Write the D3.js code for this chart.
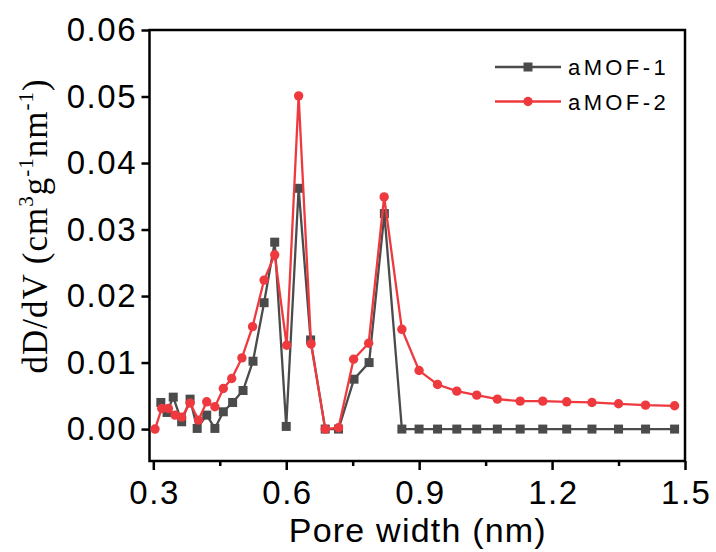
<!DOCTYPE html>
<html>
<head>
<meta charset="utf-8">
<script src="https://cdn.jsdelivr.net/npm/d3@7"></script>
<style>
  html, body { margin: 0; padding: 0; background: #fff; }
  svg { display: block; }
</style>
</head>
<body>
<svg id="chart" width="716" height="552"></svg>
<script>
// ---- data ----
const seriesNames = ["aMOF-1", "aMOF-2"];
const poreWidth1 = [0.317, 0.331, 0.345, 0.364, 0.383, 0.399, 0.4205, 0.439, 0.458, 0.479,
  0.5025, 0.525, 0.550, 0.574, 0.600, 0.628, 0.655, 0.688, 0.718, 0.753,
  0.787, 0.8215, 0.861, 0.8998, 0.9415, 0.985, 1.030, 1.0765, 1.128, 1.179,
  1.233, 1.290, 1.350, 1.411, 1.4765];
const dDdV1 = [0.0040, 0.0025, 0.0048, 0.0011, 0.0045, 0.0001, 0.0021, 0.0001, 0.0026, 0.0040,
  0.0058, 0.0102, 0.0190, 0.0281, 0.0004, 0.0362, 0.0134, 0, 0, 0.0075,
  0.0100, 0.0324, 0, 0, 0, 0, 0, 0, 0, 0,
  0, 0, 0, 0, 0];
const poreWidth2 = [0.3038, 0.319, 0.334, 0.349, 0.364, 0.383, 0.402, 0.4205, 0.439, 0.458,
  0.477, 0.500, 0.524, 0.550, 0.574, 0.601, 0.628, 0.656, 0.688, 0.718,
  0.752, 0.786, 0.821, 0.861, 0.8998, 0.9415, 0.985, 1.030, 1.0765, 1.128,
  1.179, 1.233, 1.290, 1.350, 1.411, 1.4765];
const dDdV2 = [0, 0.0031, 0.0031, 0.0021, 0.0018, 0.0039, 0.00135, 0.0041, 0.00335, 0.0061,
  0.0076, 0.0107, 0.0154, 0.0224, 0.0262, 0.0126, 0.0501, 0.0128, 0, 0.0002,
  0.0105, 0.0129, 0.0349, 0.0150, 0.0088, 0.0067, 0.0057, 0.0051, 0.0045, 0.0042,
  0.0042, 0.0041, 0.0040, 0.0038, 0.0036, 0.0035];
const xTicks = [0.3, 0.6, 0.9, 1.2, 1.5];
const xMinorTicks = [0.45, 0.75, 1.05, 1.35];
const yTicks = [0, 0.01, 0.02, 0.03, 0.04, 0.05, 0.06];

// ---- layout ----
const L = 149.5, R = 685, T = 30, B = 461;
const svg = d3.select("#chart");
const x = d3.scaleLinear().domain([0.2914, 1.5]).range([L, R]);
const y = d3.scaleLinear().domain([-0.0048, 0.06]).range([B, T]);

const colors = ["#4b4b4b", "#ee3a3f"];
const tickFont = "Arial, 'Liberation Sans', sans-serif";

// minor x ticks
const gxMinor = svg.append("g").attr("transform", `translate(0,${B})`)
  .call(d3.axisBottom(x).tickValues(xMinorTicks).tickSize(5).tickFormat(""));
gxMinor.select(".domain").remove();
gxMinor.selectAll(".tick line").attr("stroke", "#000").attr("stroke-width", 2.5);

// major x axis
const gx = svg.append("g").attr("transform", `translate(0,${B})`)
  .call(d3.axisBottom(x).tickValues(xTicks).tickSize(9).tickPadding(11).tickFormat(d3.format(".1f")));
gx.select(".domain").remove();
gx.selectAll(".tick line").attr("stroke", "#000").attr("stroke-width", 2.5);
gx.selectAll(".tick text").attr("font-family", tickFont).attr("font-size", 33)
  .attr("letter-spacing", 1.5).attr("dx", 0.75).attr("fill", "#000");

// y axis
const gy = svg.append("g").attr("transform", `translate(${L},0)`)
  .call(d3.axisLeft(y).tickValues(yTicks).tickSize(8).tickPadding(6).tickFormat(d3.format(".2f")));
gy.select(".domain").remove();
gy.selectAll(".tick line").attr("stroke", "#000").attr("stroke-width", 2.5);
gy.selectAll(".tick text").attr("font-family", tickFont).attr("font-size", 33)
  .attr("letter-spacing", 1.5).attr("dx", 1.5).attr("fill", "#000");

// frame
svg.append("rect").attr("x", L).attr("y", T).attr("width", R - L).attr("height", B - T)
  .attr("fill", "none").attr("stroke", "#000").attr("stroke-width", 2.5);

// series
const data1 = poreWidth1.map((v, i) => [v, dDdV1[i]]);
const data2 = poreWidth2.map((v, i) => [v, dDdV2[i]]);
const line = d3.line().x(d => x(d[0])).y(d => y(d[1]));

svg.append("path").datum(data1).attr("d", line)
  .attr("fill", "none").attr("stroke", colors[0]).attr("stroke-width", 2.3);
svg.append("g").selectAll("rect").data(data1).join("rect")
  .attr("x", d => x(d[0]) - 4.5).attr("y", d => y(d[1]) - 4.5)
  .attr("width", 9).attr("height", 9).attr("fill", colors[0]);

svg.append("path").datum(data2).attr("d", line)
  .attr("fill", "none").attr("stroke", colors[1]).attr("stroke-width", 2.3);
svg.append("g").selectAll("circle").data(data2).join("circle")
  .attr("cx", d => x(d[0])).attr("cy", d => y(d[1])).attr("r", 4.7).attr("fill", colors[1]);

// legend
const legY = [67, 101.5];
seriesNames.forEach((name, i) => {
  const g = svg.append("g").attr("transform", `translate(0,${legY[i]})`);
  g.append("line").attr("x1", 495).attr("x2", 561).attr("y1", 0).attr("y2", 0)
    .attr("stroke", colors[i]).attr("stroke-width", 2.3);
  if (i === 0) {
    g.append("rect").attr("x", 528 - 4.5).attr("y", -4.5).attr("width", 9).attr("height", 9).attr("fill", colors[i]);
  } else {
    g.append("circle").attr("cx", 528).attr("cy", 0).attr("r", 4.7).attr("fill", colors[i]);
  }
  g.append("text").attr("x", 568).attr("y", 8).attr("font-family", tickFont)
    .attr("font-size", 22).attr("letter-spacing", 3.4).attr("fill", "#000").text(name);
});

// x title
svg.append("text").attr("x", (L + R) / 2 + 0.6).attr("y", 541.5).attr("text-anchor", "middle")
  .attr("font-family", tickFont).attr("font-size", 34).attr("letter-spacing", 1.2)
  .attr("fill", "#000").text("Pore width (nm)");

// y title
const yt = svg.append("text").attr("transform", "translate(47,226) rotate(-90)")
  .attr("text-anchor", "middle").attr("font-family", "'Times New Roman', 'Liberation Serif', serif")
  .attr("font-size", 35).attr("letter-spacing", 1).attr("fill", "#000");
yt.append("tspan").text("dD/dV (cm");
yt.append("tspan").attr("font-size", 21).attr("dy", -14).text("3");
yt.append("tspan").attr("dy", 14).text("g");
yt.append("tspan").attr("font-size", 21).attr("dy", -14).text("-1");
yt.append("tspan").attr("dy", 14).text("nm");
yt.append("tspan").attr("font-size", 21).attr("dy", -14).text("-1");
yt.append("tspan").attr("dy", 14).text(")");
</script>
</body>
</html>
